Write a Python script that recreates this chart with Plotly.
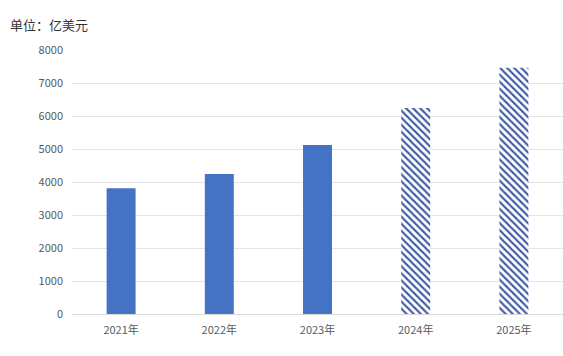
import plotly.graph_objects as go

# Market size by year (unit: 100 million USD); 2024-2025 are forecasts
years_actual = ["2021年", "2022年", "2023年"]
values_actual = [3810, 4240, 5120]
years_forecast = ["2024年", "2025年"]
values_forecast = [6240, 7460]
all_years = years_actual + years_forecast

y_ticks = [0, 1000, 2000, 3000, 4000, 5000, 6000, 7000, 8000]

BAR_BLUE = "#4472C4"
HATCH_BLUE = "#3F5BA3"
FONT = "Noto Sans CJK SC"

fig = go.Figure()

fig.add_trace(go.Bar(
    x=years_actual,
    y=values_actual,
    marker=dict(color=BAR_BLUE, line=dict(width=0)),
    name="实际",
))

fig.add_trace(go.Bar(
    x=years_forecast,
    y=values_forecast,
    marker=dict(
        color="white",
        line=dict(width=0),
        pattern=dict(shape="\\", fgcolor=HATCH_BLUE, bgcolor="white",
                     size=5, solidity=0.42, fillmode="replace"),
    ),
    name="预测",
))

# Unit label
fig.add_annotation(
    text="单位：亿美元",
    xref="paper", yref="paper",
    x=-64 / 491, y=1 + 25 / 264,
    xanchor="left", yanchor="middle",
    showarrow=False,
    font=dict(family=FONT, size=13, color="#333333"),
)

fig.update_layout(
    width=563, height=356,
    margin=dict(l=72, r=0, t=50, b=42),
    paper_bgcolor="white",
    plot_bgcolor="white",
    barmode="overlay",
    bargap=0.705,
    showlegend=False,
    font=dict(family=FONT, size=11, color="#595959"),
    xaxis=dict(
        categoryorder="array",
        categoryarray=all_years,
        showgrid=False,
        showline=True,
        linecolor="#D9D9D9",
        linewidth=1,
        ticks="",
        ticklabelstandoff=6,
        tickfont=dict(family=FONT, size=11, color="#595959"),
    ),
    yaxis=dict(
        range=[0, 8000],
        tickvals=y_ticks,
        showgrid=True,
        gridcolor="#E4E4E4",
        gridwidth=1,
        zeroline=False,
        showline=False,
        ticks="",
        ticklabelstandoff=8,
        tickfont=dict(family=FONT, size=11, color="#595959"),
    ),
)

fig.write_html("out.html")
